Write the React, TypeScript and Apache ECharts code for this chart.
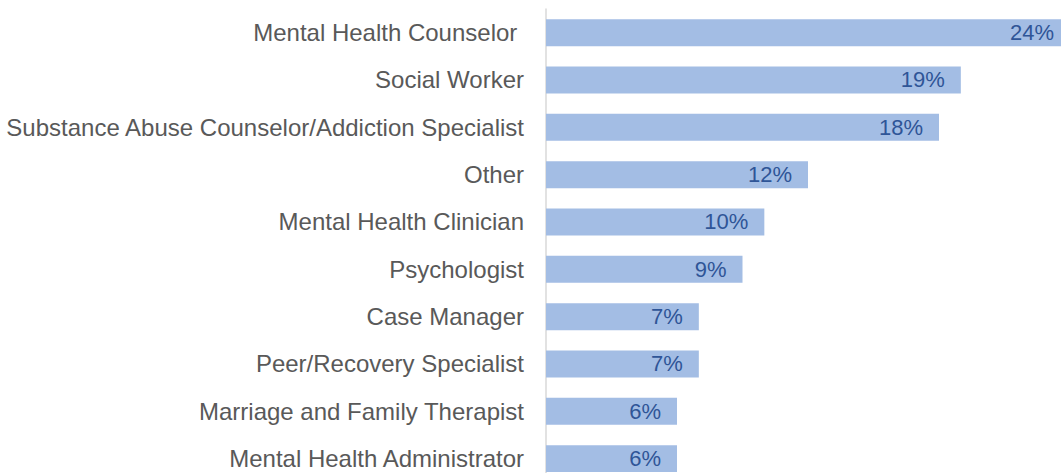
import React, { useEffect, useRef } from "react";
import * as echarts from "echarts";

const categories = [
  "Mental Health Counselor ",
  "Social Worker",
  "Substance Abuse Counselor/Addiction Specialist",
  "Other",
  "Mental Health Clinician",
  "Psychologist",
  "Case Manager",
  "Peer/Recovery Specialist",
  "Marriage and Family Therapist",
  "Mental Health Administrator",
];
const values = [24, 19, 18, 12, 10, 9, 7, 7, 6, 6];

export default function App() {
  const ref = useRef<HTMLDivElement>(null);
  useEffect(() => {
    document.body.style.margin = "0";
    const chart = echarts.init(ref.current!, null, { renderer: "svg" });
    chart.setOption({
      animation: false,
      grid: {
        left: 546,
        top: 9,
        width: 524,
        height: 473.3,
        containLabel: false,
        outerBoundsMode: "none",
      },
      xAxis: {
        type: "value",
        min: 0,
        max: 24,
        show: false,
      },
      yAxis: {
        type: "category",
        data: categories,
        inverse: true,
        axisLine: { show: true, lineStyle: { color: "#d9d9d9", width: 1.5 } },
        axisTick: { show: false },
        axisLabel: {
          margin: 22,
          color: "#595959",
          fontSize: 24,
          fontFamily: "Liberation Sans, Arial, sans-serif",
        },
      },
      series: [
        {
          type: "bar",
          data: values,
          barCategoryGap: "43%",
          itemStyle: { color: "#a3bde4" },
          label: {
            show: true,
            position: "insideRight",
            distance: 16,
            formatter: "{c}%",
            color: "#2f5597",
            fontSize: 22,
            fontFamily: "Liberation Sans, Arial, sans-serif",
          },
        },
      ],
    });
    return () => chart.dispose();
  }, []);
  return <div ref={ref} style={{ width: 1061, height: 473 }} />;
}
